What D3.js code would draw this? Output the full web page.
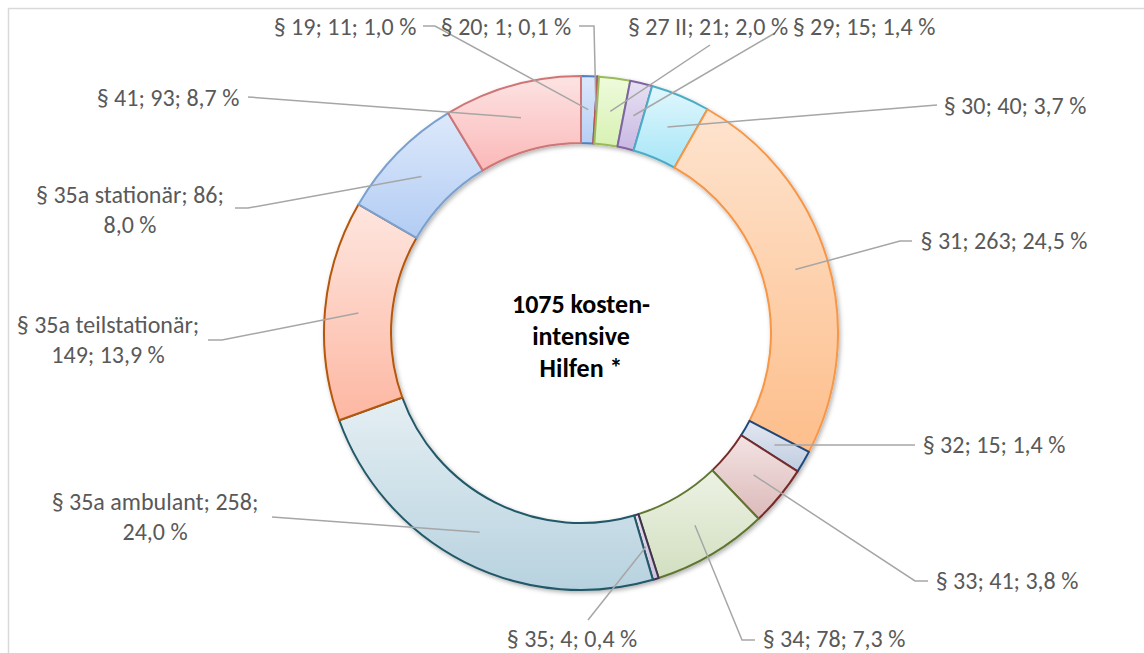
<!DOCTYPE html>
<meta charset="utf-8" />
<style>
  body {
    margin: 0;
    background: #fff;
  }
  svg text {
    font-family: Carlito, Calibri, Lato, sans-serif;
  }
  .lbl {
    fill: #595959;
    font-size: 24px;
  }
  .leader {
    fill: none;
    stroke: #a6a6a6;
    stroke-width: 1.5px;
  }
</style>
<svg width="1144" height="653"></svg>

<script src="https://d3js.org/d3.v7.min.js"></script>
<script>
  /* global d3 */

  // data
  var categories = [
    "§ 19", "§ 20", "§ 27 II", "§ 29", "§ 30", "§ 31", "§ 32",
    "§ 33", "§ 34", "§ 35", "§ 35a ambulant", "§ 35a teilstationär",
    "§ 35a stationär", "§ 41"
  ];
  var counts = [11, 1, 21, 15, 40, 263, 15, 41, 78, 4, 258, 149, 86, 93];
  var percentLabels = [
    "1,0 %", "0,1 %", "2,0 %", "1,4 %", "3,7 %", "24,5 %", "1,4 %",
    "3,8 %", "7,3 %", "0,4 %", "24,0 %", "13,9 %", "8,0 %", "8,7 %"
  ];
  var centerLines = ["1075 kosten-", "intensive", "Hilfen *"];

  // colours: gradient top, gradient bottom, outline
  var fillTop = ["#dce8fb", "#f9dcdc", "#eefbdc", "#e8e2f3", "#e1f7fd", "#fee4cf", "#e3e8f1",
    "#f3e3e3", "#edf2e4", "#e5e0ec", "#e5eff3", "#fee6df", "#dde9fb", "#fde3e3"];
  var fillBottom = ["#b7cff4", "#eeb0b0", "#d8f1b3", "#c8b8e3", "#a7e6f7", "#fdbe8b", "#bfcce0",
    "#dcb9b9", "#d2dfc0", "#cdc2dc", "#b7d2df", "#fdb7a2", "#b2ccf3", "#fbb8b8"];
  var outline = ["#4f81bd", "#c0504d", "#9bbb59", "#8064a2", "#4bacc6", "#f79646", "#1f497d",
    "#772c2a", "#5f7530", "#403152", "#215968", "#b65708", "#7aa0cf", "#d07575"];

  // label layout: text lines, centre x, first line centre y, leader points before the slice
  var labelLayout = [
    { lines: 1, x: 345, y: 27, pts: [[423, 26], [435, 26]] },
    { lines: 1, x: 506, y: 27, pts: [[579, 26], [594, 26]] },
    { lines: 1, x: 708, y: 27, pts: [[710, 45]] },
    { lines: 1, x: 864, y: 27, pts: [[775, 33]] },
    { lines: 1, x: 1015, y: 106, pts: [[937, 105]] },
    { lines: 1, x: 1004, y: 241, pts: [[912, 241], [900, 241]] },
    { lines: 1, x: 994, y: 445, pts: [[915, 445]] },
    { lines: 1, x: 1007, y: 581, pts: [[928, 581], [915, 581]] },
    { lines: 1, x: 834, y: 639, pts: [[755, 640], [742, 640]] },
    { lines: 1, x: 572, y: 639, pts: [[588, 620]] },
    { lines: 2, x: 155, y: 502, pts: [[272, 517]] },
    { lines: 2, x: 108, y: 325, pts: [[208, 340], [222, 340]] },
    { lines: 2, x: 130, y: 195, pts: [[235, 208], [248, 208]] },
    { lines: 1, x: 168, y: 98, pts: [[248, 97]] }
  ];

  var svg = d3.select("svg");
  var cx = 581, cy = 333, rOuter = 257, rInner = 190;

  // chart area border (only top and left visible)
  svg.append("rect")
    .attr("x", 8.5).attr("y", 8.5)
    .attr("width", 1300).attr("height", 800)
    .attr("fill", "none").attr("stroke", "#d9d9d9").attr("stroke-width", 1.5);

  var defs = svg.append("defs");
  var shadow = defs.append("filter").attr("id", "shadow")
    .attr("x", "-10%").attr("y", "-10%").attr("width", "120%").attr("height", "120%");
  shadow.append("feDropShadow")
    .attr("dx", 1.5).attr("dy", 2).attr("stdDeviation", 2)
    .attr("flood-color", "#000").attr("flood-opacity", 0.3);

  categories.forEach(function (c, i) {
    var g = defs.append("linearGradient").attr("id", "grad" + i)
      .attr("x1", 0).attr("y1", 0).attr("x2", 0).attr("y2", 1);
    g.append("stop").attr("offset", "0%").attr("stop-color", fillTop[i]);
    g.append("stop").attr("offset", "100%").attr("stop-color", fillBottom[i]);
  });

  var data = categories.map(function (c, i) {
    return { name: c, value: counts[i], pct: percentLabels[i], i: i };
  });

  var pie = d3.pie().sort(null).value(function (d) { return d.value; });
  var arcs = pie(data);

  var arc = d3.arc().innerRadius(rInner).outerRadius(rOuter);
  var midArc = d3.arc().innerRadius((rInner + rOuter) / 2).outerRadius((rInner + rOuter) / 2);

  var ring = svg.append("g")
    .attr("transform", "translate(" + cx + "," + cy + ")")
    .attr("filter", "url(#shadow)");

  ring.selectAll("path")
    .data(arcs)
    .enter()
    .append("path")
    .attr("d", arc)
    .attr("fill", function (d) { return "url(#grad" + d.data.i + ")"; })
    .attr("stroke", function (d) { return outline[d.data.i]; })
    .attr("stroke-width", 2)
    .attr("stroke-linejoin", "round");

  // leader lines
  var line = d3.line();
  svg.append("g").selectAll("path")
    .data(arcs)
    .enter()
    .append("path")
    .attr("class", "leader")
    .attr("d", function (d) {
      var c = midArc.centroid(d);
      var pts = labelLayout[d.data.i].pts.concat([[cx + c[0], cy + c[1]]]);
      return line(pts);
    });

  // labels
  var labels = svg.append("g").selectAll("text")
    .data(arcs)
    .enter()
    .append("text")
    .attr("class", "lbl")
    .attr("text-anchor", "middle")
    .attr("x", function (d) { return labelLayout[d.data.i].x; })
    .attr("y", function (d) { return labelLayout[d.data.i].y; });

  labels.each(function (d) {
    var t = d3.select(this);
    var L = labelLayout[d.data.i];
    var full = d.data.name + "; " + d.data.value + "; " + d.data.pct;
    if (L.lines === 1) {
      t.append("tspan").attr("x", L.x).attr("dy", "0.35em").text(full);
    } else if (d.data.i === 11) {
      t.append("tspan").attr("x", L.x).attr("dy", "0.35em").text(d.data.name + ";");
      t.append("tspan").attr("x", L.x).attr("dy", 30).text(d.data.value + "; " + d.data.pct);
    } else {
      t.append("tspan").attr("x", L.x).attr("dy", "0.35em").text(d.data.name + "; " + d.data.value + ";");
      t.append("tspan").attr("x", L.x).attr("dy", 30).text(d.data.pct);
    }
  });

  // centre text
  svg.append("text")
    .attr("text-anchor", "middle")
    .attr("font-size", 26)
    .attr("font-weight", "bold")
    .attr("fill", "#000")
    .selectAll("tspan")
    .data(centerLines)
    .enter()
    .append("tspan")
    .attr("x", cx)
    .attr("y", function (d, i) { return 304 + i * 32; })
    .attr("dy", "0.35em")
    .text(function (d) { return d; });
</script>
